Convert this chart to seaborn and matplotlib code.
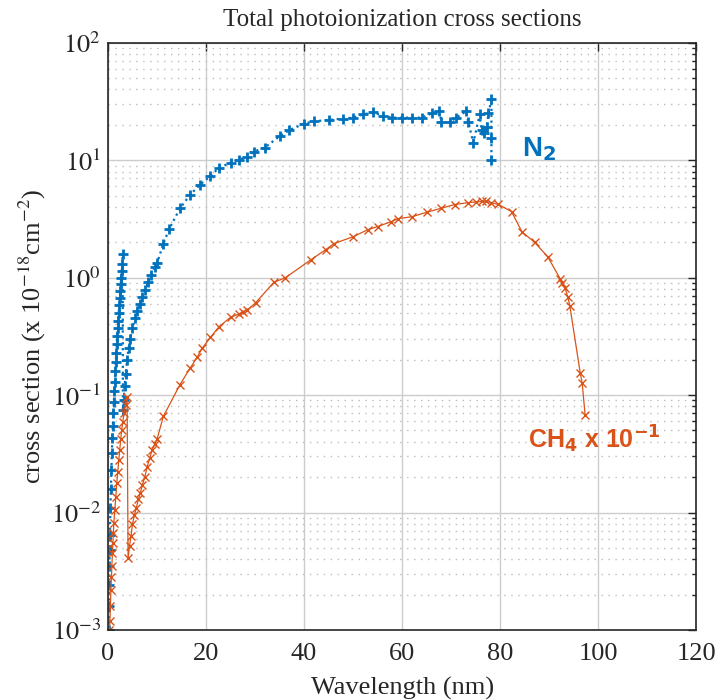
import numpy as np
import pandas as pd
import matplotlib
matplotlib.use("Agg")
import matplotlib.pyplot as plt
import seaborn as sns
from matplotlib.ticker import LogLocator, FixedLocator, NullFormatter

# ---- data ----
n2_wavelength = [0.15, 0.2, 0.25, 0.3, 0.35, 0.4, 0.5, 0.6, 0.7, 0.8, 0.9, 1.0,
                 1.1, 1.2, 1.3, 1.4, 1.5, 1.6, 1.7, 1.8, 1.9, 2.0, 2.1, 2.2, 2.3,
                 2.4, 2.5, 2.6, 2.7, 2.8, 2.9, 3.0,
                 3.05, 3.2, 3.4, 3.6, 3.9, 4.2, 4.5, 5.0, 5.5, 6.0, 6.5, 7.0,
                 7.6, 8.2, 8.8, 9.6, 10.0, 11.3, 12.5, 14.7, 16.8, 18.8, 20.9,
                 22.6, 25.0, 26.7, 28.4, 29.7, 32.0, 35.0, 37.0, 40.0, 42.0,
                 45.0, 48.0, 50.0, 52.0, 54.0, 56.0, 58.0, 60.0, 62.0, 64.0,
                 66.0, 67.6, 68.0, 69.7, 71.0, 73.0, 73.5, 74.5, 75.8, 76.2,
                 76.6, 77.2, 77.6, 78.2, 78.2, 78.2]
n2_sigma = [0.0010, 0.0016, 0.0024, 0.0035, 0.0048, 0.0065, 0.011, 0.016, 0.023,
            0.032, 0.043, 0.055, 0.070, 0.088, 0.108, 0.13, 0.16, 0.19, 0.23,
            0.27, 0.32, 0.37, 0.43, 0.50, 0.58, 0.67, 0.77, 0.88, 1.0, 1.14,
            1.3, 1.6,
            0.075, 0.09, 0.12, 0.15, 0.2, 0.25, 0.3, 0.37, 0.45, 0.52, 0.6,
            0.68, 0.79, 0.92, 1.05, 1.24, 1.32, 1.95, 2.6, 3.9, 5.1, 6.2, 7.3,
            8.6, 9.5, 10.1, 10.7, 11.8, 12.8, 16.0, 18.0, 20.5, 21.4,
            22.0, 22.6, 23.0, 24.5, 25.5, 24.0, 23.0, 23.0, 23.0, 23.0,
            25.0, 26.4, 21.0, 21.0, 23.0, 26.0, 21.0, 14.0, 24.5, 18.0,
            17.0, 19.0, 25.0, 33.0, 15.5, 10.1]

ch4_wavelength = [0.3, 0.4, 0.5, 0.6, 0.7, 0.8, 0.9, 1.0, 1.1, 1.2, 1.4, 1.6,
                  1.8, 2.0, 2.2, 2.4, 2.6, 2.8, 3.0, 3.3, 3.6, 3.9,
                  4.1, 4.4, 4.7, 5.0, 5.4, 5.8, 6.2, 6.6, 7.0, 7.5, 8.0, 8.5,
                  9.0, 9.5, 10.0, 11.3, 14.7, 16.8, 18.2, 19.2, 20.9, 22.6,
                  25.0, 26.7, 27.5, 28.4, 30.1, 33.8, 36.2, 41.4, 44.4, 46.1,
                  50.0, 53.0, 55.0, 57.8, 59.2, 62.0, 65.0, 68.0, 70.7, 73.5,
                  75.0, 76.2, 77.0, 78.2, 79.6, 82.3, 84.4, 87.0, 89.7, 92.2,
                  92.6, 93.2, 93.8, 94.2, 96.3, 96.7, 97.3]
ch4_sigma = [0.0010, 0.0012, 0.0016, 0.0022, 0.0028, 0.0035, 0.0045, 0.0055,
             0.0067, 0.0082, 0.0105, 0.0135, 0.018, 0.022, 0.028, 0.034, 0.042,
             0.050, 0.059, 0.070, 0.082, 0.097,
             0.0041, 0.0052, 0.0063, 0.0080, 0.0095, 0.011, 0.013, 0.0147,
             0.017, 0.020, 0.0245, 0.029, 0.034, 0.038, 0.042, 0.066, 0.123,
             0.171, 0.21, 0.25, 0.31, 0.38, 0.46, 0.49, 0.51, 0.53, 0.61,
             0.91, 1.0, 1.42, 1.73, 1.95, 2.23, 2.56, 2.72, 3.0, 3.18, 3.3,
             3.6, 3.9, 4.19, 4.35, 4.4, 4.45, 4.45, 4.35, 4.2, 3.65, 2.46,
             2.0, 1.5, 0.98, 0.9, 0.82, 0.68, 0.57, 0.155, 0.127, 0.068]

x_ticks = [0, 20, 40, 60, 80, 100, 120]
y_ticks = [1e-3, 1e-2, 1e-1, 1e0, 1e1, 1e2]
y_tick_labels = [r"$10^{-3}$", r"$10^{-2}$", r"$10^{-1}$", r"$10^{0}$",
                 r"$10^{1}$", r"$10^{2}$"]

blue = "#0072BD"
orange = "#D95319"

sns.set_theme(style="white")
plt.rcParams["font.family"] = ["Liberation Serif", "DejaVu Serif"]
plt.rcParams["mathtext.fontset"] = "stix"

fig = plt.figure(figsize=(7.15, 7.0), dpi=100)
ax = fig.add_axes([0.151, 0.1, 0.823, 0.839])

n2 = pd.DataFrame({"wl": n2_wavelength, "sigma": n2_sigma})
ch4 = pd.DataFrame({"wl": ch4_wavelength, "sigma": ch4_sigma})

sns.lineplot(data=n2, x="wl", y="sigma", sort=False, estimator=None, ax=ax,
             color=blue, linestyle=":", linewidth=1.6, marker="+",
             markersize=7, markeredgewidth=2.0, markeredgecolor=blue)
sns.lineplot(data=ch4, x="wl", y="sigma", sort=False, estimator=None, ax=ax,
             color=orange, linestyle="-", linewidth=0.9, marker="x",
             markersize=6, markeredgewidth=1.0, markeredgecolor=orange)

ax.set_yscale("log")
ax.set_xlim(0, 120)
ax.set_ylim(1e-3, 1e2)
ax.xaxis.set_major_locator(FixedLocator(x_ticks))
ax.set_xticklabels([str(t) for t in x_ticks])
ax.yaxis.set_major_locator(FixedLocator(y_ticks))
ax.set_yticklabels(y_tick_labels)
ax.yaxis.set_minor_locator(LogLocator(base=10, subs=np.arange(2, 10)))
ax.yaxis.set_minor_formatter(NullFormatter())

ax.grid(True, which="major", axis="both", color="#cccccc", linewidth=1.0,
        linestyle="-")
ax.grid(True, which="minor", axis="y", color="#bbbbbb", linewidth=1.0,
        linestyle=(0, (1, 4)))
ax.set_axisbelow(True)

ax.tick_params(which="both", direction="in", top=True, right=True,
               labelsize=19, color="#262626", pad=5)
ax.tick_params(axis="x", which="major", pad=9)
ax.tick_params(which="major", length=6, width=1.0)
ax.tick_params(which="minor", length=3, width=1.0)
for s in ax.spines.values():
    s.set_color("#262626")
    s.set_linewidth(1.2)

ax.set_xlabel("Wavelength (nm)", fontsize=19, labelpad=9)
ax.set_ylabel(r"cross section (x 10$^{-18}$cm$^{-2}$)", fontsize=19, labelpad=2)
ax.set_title("Total photoionization cross sections", fontsize=18, pad=12)

ax.text(84.4, 12.5, r"N$_\mathbf{2}$", color=blue, fontsize=20,
        fontweight="bold", family=["Liberation Sans"], va="center",
        ha="left", math_fontfamily="dejavusans")
ax.text(85.6, 0.042, r"CH$_\mathbf{4}$ x 10$^\mathbf{-1}$", color=orange,
        fontsize=18, fontweight="bold", family=["Liberation Sans"],
        va="center", ha="left", math_fontfamily="dejavusans")

fig.savefig("out.png", dpi=100)
